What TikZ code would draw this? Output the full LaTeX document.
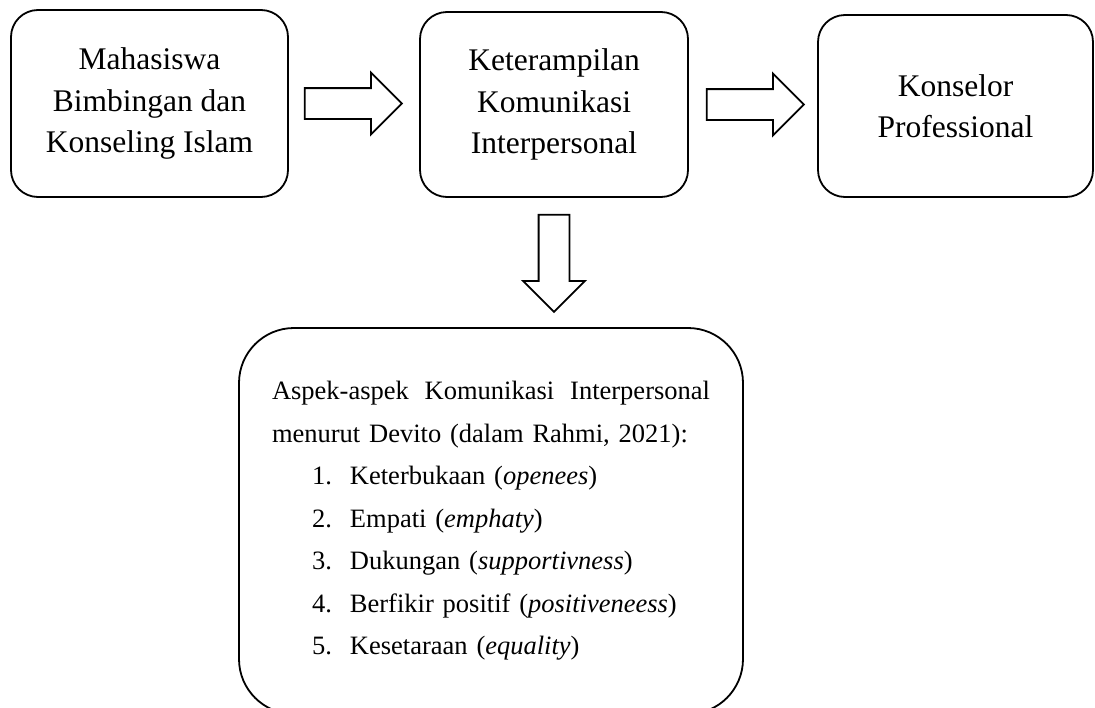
\documentclass[tikz,border=0pt]{standalone}
\usepackage{fontspec}
\setmainfont{Liberation Serif}
\usetikzlibrary{shapes.arrows,calc}

\tikzset{
  kotak/.style={draw, line width=1.8pt, rounded corners=27pt, align=center, inner sep=0pt,
    font=\fontsize{31.5}{41.5}\selectfont},
  panah/.style={draw, single arrow, line width=1.8pt, minimum height=97pt, minimum width=60pt,
    single arrow head extend=15.5pt, single arrow head indent=0pt, inner sep=14.5pt, anchor=tail}
}

\begin{document}
\begin{tikzpicture}[x=1pt,y=-1pt]
\useasboundingbox (0,0) rectangle (1095,707);
\clip (0,0) rectangle (1095,707);
\node[kotak, minimum width=277pt, minimum height=187pt] (mhs) at (149.5,103.5) {Mahasiswa\\Bimbingan dan\\Konseling Islam};
\node[kotak, minimum width=268pt, minimum height=185pt] (ket) at (554,104.5) {Keterampilan\\Komunikasi\\Interpersonal};
\node[kotak, minimum width=275pt, minimum height=182pt] (kons) at (955.5,106) {Konselor\\Professional};
\node[kotak, rounded corners=55pt, minimum width=504pt, minimum height=386pt, text width=438pt, align=left,
  font=\fontsize{26.5}{42.5}\selectfont] (aspek) at (491,521) {%
  \makebox[438pt][s]{Aspek-aspek\hfill Komunikasi\hfill Interpersonal}\\
  menurut Devito (dalam Rahmi, 2021):\\
  \hspace*{40pt}\makebox[38pt][l]{1.}Keterbukaan (\textit{openees})\\
  \hspace*{40pt}\makebox[38pt][l]{2.}Empati (\textit{emphaty})\\
  \hspace*{40pt}\makebox[38pt][l]{3.}Dukungan (\textit{supportivness})\\
  \hspace*{40pt}\makebox[38pt][l]{4.}Berfikir positif (\textit{positiveneess})\\
  \hspace*{40pt}\makebox[38pt][l]{5.}Kesetaraan (\textit{equality})};

\node[panah] (p1) at ([xshift=15pt]mhs.east) {};
\node[panah] (p2) at ([xshift=17pt]ket.east) {};
\node[panah, shape border rotate=270] (p3) at ([yshift=-16pt]ket.south) {};
\end{tikzpicture}
\end{document}
